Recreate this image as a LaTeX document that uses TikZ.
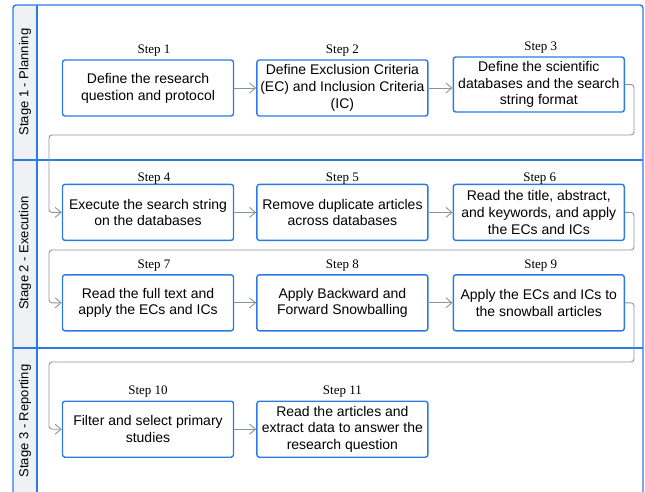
\documentclass[tikz,border=0pt]{standalone}
\usepackage{fontspec}
\setmainfont{Liberation Sans}
\newfontfamily\stepserif{Liberation Serif}
\usetikzlibrary{positioning, arrows.meta}
\definecolor{laneblue}{HTML}{2A7BE4}
\definecolor{flowgray}{HTML}{8E939B}
\definecolor{lanefill}{HTML}{F0F1F4}
\tikzset{
x=1pt, y=1pt, % one unit is one pixel of the layout
>={Straight Barb[length=6pt,width=10pt]}, % open chevron heads
node distance=22pt, % gap between two steps in a row
stepbox/.style={draw=laneblue, line width=1.4pt, rounded corners=2.5pt, fill=white,
  minimum width=171pt, minimum height=56pt, align=center, inner sep=2pt,
  font=\fontsize{14}{16.8}\selectfont}, % the blue step boxes
steplabel/.style={inner sep=0pt, font=\stepserif\fontsize{13}{15}\selectfont}, % "Step n" above a box
flow/.style={->, draw=flowgray, line width=0.9pt, rounded corners=3pt}, % gray connectors
lanetitle/.style={rotate=90, font=\fontsize{13}{15}\selectfont}, % stage names
laneline/.style={draw=laneblue, line width=1.4pt},
}
\begin{document}
\begin{tikzpicture}
        \useasboundingbox (0,0) rectangle (645,-491);

        % Swimlanes
        \fill[lanefill, rounded corners=3pt] (13,-496) -- (13,-5) -- (37,-5) -- (37,-496) -- cycle;
        \draw[laneline, rounded corners=3pt] (13,-496) -- (13,-5) -- (643,-5) -- (643,-496);
        \draw[laneline] (37,-5) -- (37,-496);
        \draw[laneline] (13,-160) -- (643,-160);
        \draw[laneline] (13,-348) -- (643,-348);

        \node[lanetitle] (stage1) at (25,-82) {Stage 1 - Planning};
        \node[lanetitle] (stage2) at (25,-253) {Stage 2 - Execution};
        \node[lanetitle] (stage3) at (25,-421) {Stage 3 - Reporting};

        % Stage 1
        \node[stepbox] (step1) at (148,-88) {Define the research\\question and protocol};
        \node[stepbox, right=of step1] (step2) {Define Exclusion Criteria\\(EC) and Inclusion Criteria\\(IC)};
        \node[stepbox, right=24pt of step2, yshift=3.5pt, minimum height=55pt] (step3) {Define the scientific\\databases and the search\\string format};

        % Stage 2
        \node[stepbox, below=67pt of step1] (step4) {Execute the search string\\on the databases};
        \node[stepbox, right=of step4] (step5) {Remove duplicate articles\\across databases};
        \node[stepbox, right=24pt of step5] (step6) {Read the title, abstract,\\and keywords, and apply\\the ECs and ICs};
        \node[stepbox, below=33pt of step4] (step7) {Read the full text and\\apply the ECs and ICs};
        \node[stepbox, right=of step7] (step8) {Apply Backward and\\Forward Snowballing};
        \node[stepbox, right=24pt of step8] (step9) {Apply the ECs and ICs to\\the snowball articles};

        % Stage 3
        \node[stepbox, below=69pt of step7] (step10) {Filter and select primary\\studies};
        \node[stepbox, right=of step10] (step11) {Read the articles and\\extract data to answer the\\research question};

        % Step captions (x offset / gap above the box)
        \foreach \i/\dx/\gap in {1/6/3, 2/0/3, 3/2/3, 4/6/-1, 5/0/-1, 6/1/-1,
                                 7/6/3, 8/0/3, 9/2/3, 10/0/3, 11/0/3}
            \node[steplabel, above=\gap pt of step\i, xshift=\dx pt] (label\i) {Step \i};

        % Connectors within a row
        \draw[flow] (step1) -- (step2);
        \draw[flow] (step2.east) -- (step2.east -| step3.west);
        \draw[flow] (step4) -- (step5);
        \draw[flow] (step5) -- (step6);
        \draw[flow] (step7) -- (step8);
        \draw[flow] (step8) -- (step9);
        \draw[flow] (step10) -- (step11);

        % Connectors back to the next row
        \coordinate (back1) at (49,-135);
        \coordinate (back2) at (49,-250);
        \coordinate (back3) at (49,-362);
        \draw[flow] (step3.east) -| ([xshift=9pt]step3.east |- back1) -- (back1) |- (step4.west);
        \draw[flow] (step6.east) -| ([xshift=9pt]step6.east |- back2) -- (back2) |- (step7.west);
        \draw[flow] (step9.east) -| ([xshift=9pt]step9.east |- back3) -- (back3) |- (step10.west);
    \end{tikzpicture}
\end{document}
